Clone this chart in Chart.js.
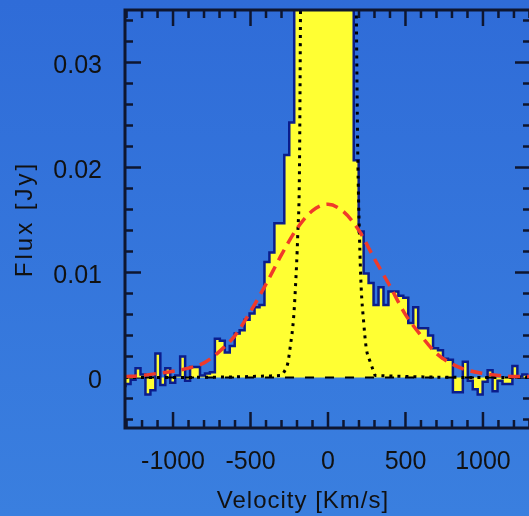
<!DOCTYPE html>
<html>
<head>
<meta charset="utf-8">
<script src="https://cdn.jsdelivr.net/npm/chart.js@4"></script>
<style>
  html, body { margin: 0; padding: 0; overflow: hidden; }
  body { width: 529px; height: 516px; background: linear-gradient(#2f6cd8, #3a7fdf); }
  #wrap { width: 545px; height: 516px; }
</style>
</head>
<body>
<div id="wrap"><canvas id="spec" width="545" height="516"></canvas></div>
<script>
// histogram: bins of 32 km/s starting at -1338 km/s
const binStart = -1338;
const binWidth = 32;
const flux = [
  -0.0008, -0.0008, -0.0006, -0.0002, 0.0009, 0.0003, -0.0016, -0.0012, 0.0023, -0.0007,
  0.0009, -0.0005, 0.0002, 0.0020, -0.0003, 0.0010, 0.0010, 0.0002, 0.0004, 0.0005,
  0.0037, 0.0035, 0.0024, 0.0030, 0.0042, 0.0045, 0.0055, 0.0061, 0.0067, 0.0069,
  0.0110, 0.0119, 0.0147, 0.0147, 0.0212, 0.0243,
  // central bins, off the top of the plot
  0.060, 0.090, 0.130, 0.180, 0.230, 0.260, 0.260, 0.230, 0.180, 0.130, 0.090, 0.060,
  0.0207, 0.0139, 0.0099, 0.0090, 0.0069, 0.0086, 0.0069, 0.0082, 0.0082, 0.0078,
  0.0076, 0.0052, 0.0067, 0.0047, 0.0047, 0.0040, 0.0028, 0.0026, 0.0018, 0.0017,
  -0.0014, -0.0014, 0.0015, -0.0003, -0.0011, -0.0016, -0.0004, 0.0007, -0.0013, -0.0003,
  -0.0006, -0.0006, 0.0011, 0.0001, 0.0003, 0.0000
];

// broad gaussian fit (red dashed)
const broadV = [-1310, -1200, -1100, -1000, -900, -800, -700, -600, -500, -400, -300, -200, -100, 0,
  100, 200, 300, 400, 500, 600, 700, 800, 900, 1000, 1100, 1200, 1310];
const broadF = [0.0001, 0.0002, 0.0004, 0.0006, 0.0009, 0.0014, 0.0025, 0.0040, 0.0063, 0.0089, 0.0117, 0.0142, 0.0159, 0.0165,
  0.0158, 0.0140, 0.0113, 0.0087, 0.0060, 0.0040, 0.0023, 0.0013, 0.0007, 0.0004, 0.0002, 0.0001, 0.0001];

// narrow gaussian (black dotted), null = above the frame
const narrowV = [-1310, -302, -281, -259, -244, -223, -210, -195, -184, -177, 0,
  182, 192, 203, 214, 229, 246, 272, 289, 305, 1310];
const narrowF = [0, 0.0002, 0.0006, 0.0014, 0.0029, 0.0055, 0.0086, 0.0137, 0.0200, 0.0360, null,
  0.0360, 0.0214, 0.0135, 0.0086, 0.0055, 0.0029, 0.0015, 0.0008, 0.0002, 0];

const xLabels = [-1000, -500, 0, 500, 1000];
const yLabels = [0, 0.01, 0.02, 0.03];
const xRange = [-1310, 1310];
const yRange = [-0.0048, 0.035];

const ink = '#0e1630';
const labelFont = { family: '"Liberation Sans", Arial, sans-serif', size: 25 };

const histPts = flux.map((f, i) => ({ x: binStart + i * binWidth, y: f }));
histPts.push({ x: binStart + flux.length * binWidth, y: flux[flux.length - 1] });

const frame = {
  id: 'frame',
  beforeDatasetsDraw(chart) {
    const { ctx, chartArea: a, scales: { x, y } } = chart;
    ctx.save();
    ctx.strokeStyle = ink;
    ctx.lineWidth = 2.5;
    ctx.beginPath();
    for (let v = -1300; v <= 1300; v += 100) {
      const px = x.getPixelForValue(v);
      const len = v % 500 === 0 ? 16 : 8;
      ctx.moveTo(px, a.bottom); ctx.lineTo(px, a.bottom - len);
      ctx.moveTo(px, a.top); ctx.lineTo(px, a.top + len);
    }
    for (let i = -2; i <= 17; i++) {
      const py = y.getPixelForValue(i * 0.002);
      const len = i % 5 === 0 ? 16 : 8;
      ctx.moveTo(a.left, py); ctx.lineTo(a.left + len, py);
      ctx.moveTo(a.right, py); ctx.lineTo(a.right - len, py);
    }
    ctx.stroke();
    ctx.restore();
  },
  afterDatasetsDraw(chart) {
    const { ctx, chartArea: a } = chart;
    ctx.save();
    ctx.strokeStyle = ink;
    ctx.lineWidth = 3;
    ctx.strokeRect(a.left, a.top, a.right - a.left, a.bottom - a.top);
    ctx.restore();
  },
  afterDraw(chart) {
    const { ctx, chartArea: a } = chart;
    ctx.save();
    ctx.fillStyle = '#111';
    ctx.font = '24px "Liberation Sans", Arial, sans-serif';
    ctx.textAlign = 'center';
    ctx.textBaseline = 'middle';
    ctx.letterSpacing = '1px';
    ctx.fillText('Velocity [Km/s]', a.left + 178, 501);
    ctx.translate(25, (a.top + a.bottom) / 2);
    ctx.rotate(-Math.PI / 2);
    ctx.letterSpacing = '3px';
    ctx.fillText('Flux [Jy]', 0, 0);
    ctx.restore();
  }
};

new Chart(document.getElementById('spec'), {
  type: 'line',
  data: {
    datasets: [
      {
        data: broadV.map((v, i) => ({ x: v, y: broadF[i] })),
        borderColor: '#f03a2a',
        borderWidth: 3.5,
        borderDash: [12, 7],
        pointRadius: 0,
        cubicInterpolationMode: 'monotone',
        fill: false,
        clip: 0
      },
      {
        data: narrowV.map((v, i) => ({ x: v, y: narrowF[i] })),
        borderColor: '#000',
        borderWidth: 3,
        borderDash: [3, 5],
        pointRadius: 0,
        cubicInterpolationMode: 'monotone',
        fill: false,
        clip: 0
      },
      {
        data: [{ x: xRange[0], y: 0 }, { x: xRange[1], y: 0 }],
        borderColor: '#000',
        borderWidth: 2,
        borderDash: [9, 11],
        pointRadius: 0,
        fill: false,
        clip: 0
      },
      {
        data: histPts,
        stepped: 'after',
        borderColor: '#0b1d8c',
        borderWidth: 2.5,
        backgroundColor: '#ffff33',
        fill: 'origin',
        pointRadius: 0,
        clip: 0
      }
    ]
  },
  options: {
    responsive: false,
    animation: false,
    layout: { padding: { left: 0, top: 10, right: 14, bottom: 0 } },
    plugins: { legend: { display: false }, tooltip: { enabled: false } },
    scales: {
      x: {
        type: 'linear',
        min: xRange[0],
        max: xRange[1],
        afterBuildTicks: s => { s.ticks = xLabels.map(v => ({ value: v })); },
        afterFit: s => { s.height = 88; s.paddingLeft = 0; s.paddingRight = 0; },
        grid: { display: false, drawTicks: false },
        border: { display: false },
        ticks: {
          color: '#111',
          padding: 19,
          maxRotation: 0,
          font: labelFont,
          callback: v => String(v)
        }
      },
      y: {
        min: yRange[0],
        max: yRange[1],
        afterBuildTicks: s => { s.ticks = yLabels.map(v => ({ value: v })); },
        afterFit: s => { s.width = 125; s.paddingTop = 0; s.paddingBottom = 0; },
        grid: { display: false, drawTicks: false },
        border: { display: false },
        ticks: {
          color: '#111',
          padding: 23,
          labelOffset: 4,
          font: labelFont,
          callback: v => String(v)
        }
      }
    }
  },
  plugins: [frame]
});
</script>
</body>
</html>
